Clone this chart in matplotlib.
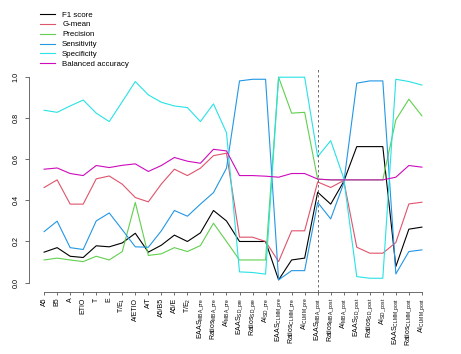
import matplotlib
matplotlib.use("Agg")
import matplotlib.pyplot as plt
import numpy as np

plt.rcParams['font.family'] = ['Liberation Sans', 'DejaVu Sans']
plt.rcParams['mathtext.fontset'] = 'custom'
plt.rcParams['mathtext.rm'] = 'Liberation Sans'
plt.rcParams['mathtext.it'] = 'Liberation Sans'
plt.rcParams['mathtext.bf'] = 'Liberation Sans'

labels = ["A5", "B5", "A", "ETIO", "T", "E", r"T/E$_{1}$", "A/ETIO", "A/T", "A5/B5", "A5/E", r"T/E$_{2}$",
          r"EAAS$_{\mathrm{MBA\_pre}}$", r"Ratios$_{\mathrm{MBA\_pre}}$", r"AI$_{\mathrm{MBA\_pre}}$",
          r"EAAS$_{\mathrm{SD\_pre}}$", r"Ratios$_{\mathrm{SD\_pre}}$", r"AI$_{\mathrm{SD\_pre}}$",
          r"EAAS$_{\mathrm{CLMM\_pre}}$", r"Ratios$_{\mathrm{CLMM\_pre}}$", r"AI$_{\mathrm{CLMM\_pre}}$",
          r"EAAS$_{\mathrm{MBA\_post}}$", r"Ratios$_{\mathrm{MBA\_post}}$", r"AI$_{\mathrm{MBA\_post}}$",
          r"EAAS$_{\mathrm{SD\_post}}$", r"Ratios$_{\mathrm{SD\_post}}$", r"AI$_{\mathrm{SD\_post}}$",
          r"EAAS$_{\mathrm{CLMM\_post}}$", r"Ratios$_{\mathrm{CLMM\_post}}$", r"AI$_{\mathrm{CLMM\_post}}$"]

f1 = [0.148, 0.170, 0.128, 0.122, 0.179, 0.174, 0.193, 0.240, 0.148, 0.182, 0.231, 0.200, 0.242, 0.351, 0.300,
      0.200, 0.200, 0.200, 0.013, 0.110, 0.119, 0.440, 0.382, 0.492, 0.662, 0.662, 0.662, 0.078, 0.260, 0.270]
gmean = [0.463, 0.500, 0.382, 0.382, 0.505, 0.519, 0.479, 0.414, 0.393, 0.480, 0.552, 0.521, 0.557, 0.618, 0.630,
         0.221, 0.221, 0.200, 0.102, 0.252, 0.252, 0.490, 0.463, 0.497, 0.172, 0.143, 0.143, 0.195, 0.383, 0.391]
precision = [0.110, 0.119, 0.110, 0.102, 0.128, 0.110, 0.151, 0.390, 0.132, 0.140, 0.170, 0.151, 0.180, 0.289, 0.200,
             0.110, 0.110, 0.110, 1.000, 0.825, 0.829, 0.503, 0.500, 0.500, 0.500, 0.500, 0.500, 0.792, 0.893, 0.812]
sensitivity = [0.248, 0.299, 0.170, 0.161, 0.300, 0.339, 0.257, 0.174, 0.172, 0.252, 0.351, 0.323, 0.382, 0.438, 0.557,
               0.982, 0.990, 0.990, 0.013, 0.058, 0.058, 0.390, 0.310, 0.484, 0.971, 0.982, 0.982, 0.042, 0.151, 0.159]
specificity = [0.839, 0.829, 0.860, 0.889, 0.825, 0.784, 0.881, 0.979, 0.914, 0.878, 0.860, 0.852, 0.784, 0.870, 0.730,
               0.052, 0.049, 0.041, 1.000, 1.000, 1.000, 0.613, 0.691, 0.508, 0.029, 0.021, 0.021, 0.990, 0.979, 0.962]
balanced = [0.552, 0.558, 0.531, 0.521, 0.570, 0.560, 0.571, 0.578, 0.541, 0.570, 0.609, 0.591, 0.581, 0.649, 0.641,
            0.521, 0.521, 0.518, 0.513, 0.531, 0.531, 0.504, 0.500, 0.500, 0.500, 0.500, 0.500, 0.513, 0.570, 0.562]

series_names = ["F1 score", "G-mean", "Precision", "Sensitivity", "Specificity", "Balanced accuracy"]
series_vals = [f1, gmean, precision, sensitivity, specificity, balanced]
colors = ["#000000", "#DF536B", "#61D04F", "#2297E6", "#28E2E5", "#CD0BBC"]
split_index = 21
yticks = [0.0, 0.2, 0.4, 0.6, 0.8, 1.0]

fig = plt.figure(figsize=(4.61, 3.54), dpi=100)
ax = fig.add_axes([29 / 461, 1 - 292 / 354, (437 - 29) / 461, (292 - 69) / 354])
x = np.arange(len(labels))
handles = []
for name, vals, c in zip(series_names, series_vals, colors):
    h, = ax.plot(x, vals, color=c, lw=0.8, label=name)
    handles.append(h)

ax.axvline(split_index, color="#555555", lw=0.6, ls=(0, (3, 3)))

ax.set_xlim(-1.16, len(labels) - 1 + 1.16)
ax.set_ylim(-0.046, 1.04)
for s in ["top", "right"]:
    ax.spines[s].set_visible(False)
ax.spines["left"].set_bounds(0, 1)
ax.spines["bottom"].set_bounds(0, len(labels) - 1)
for s in ["left", "bottom"]:
    ax.spines[s].set_color("#555555")
    ax.spines[s].set_linewidth(0.6)

ax.set_yticks(yticks)
ax.set_yticklabels([f"{v:.1f}" for v in yticks], rotation=90, va="center", fontsize=5.2)
ax.set_xticks(x)
ax.set_xticklabels(labels, rotation=90, fontsize=5.0)
ax.tick_params(axis="y", length=3, width=0.6, color="#555555", pad=4)
ax.tick_params(axis="x", length=2.5, width=0.6, color="#555555", pad=1.5)

fig.legend(handles=handles, loc="upper left", bbox_to_anchor=(40 / 461, 1 - 11 / 354),
           frameon=False, fontsize=5.7, handlelength=1.9, handletextpad=0.9,
           labelspacing=0.3, borderpad=0, borderaxespad=0)

fig.savefig("out.png", dpi=100)
